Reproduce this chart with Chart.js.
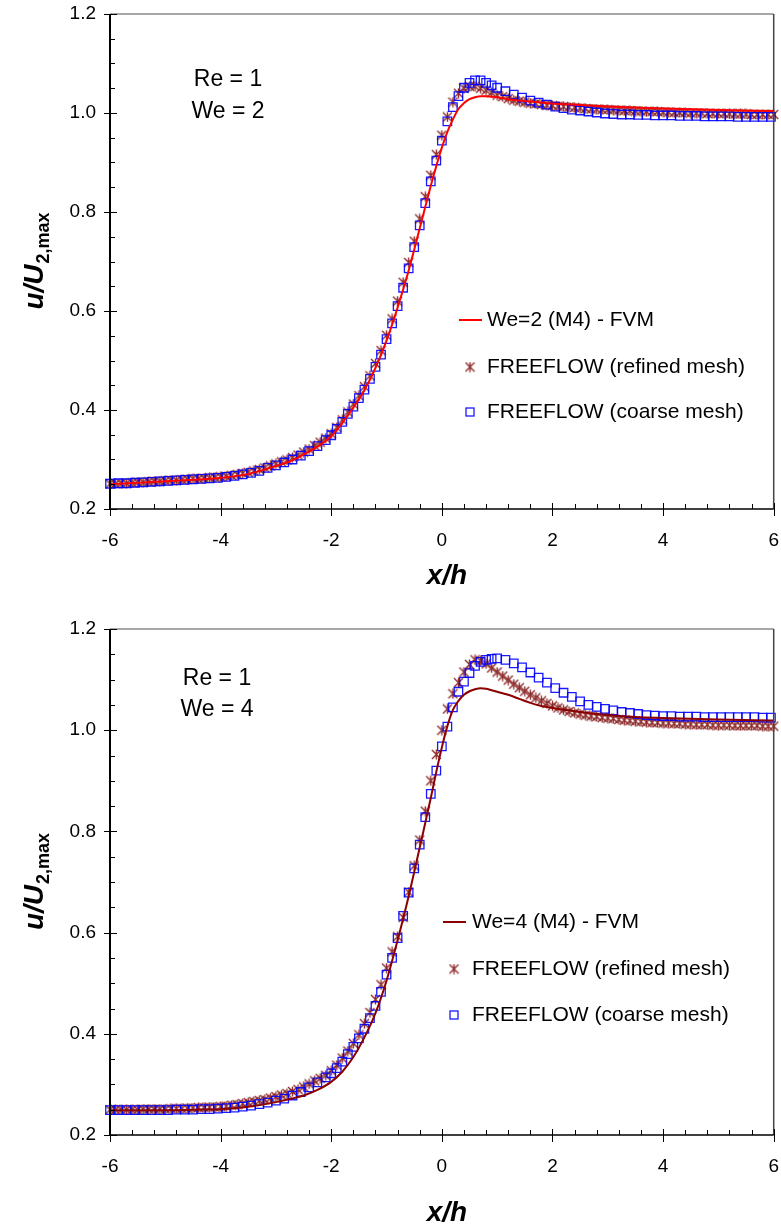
<!DOCTYPE html>
<html>
<head>
<meta charset="utf-8">
<title>u/U2,max vs x/h</title>
<script src="https://cdn.jsdelivr.net/npm/chart.js@4.4.1/dist/chart.umd.min.js"></script>
<style>
    html, body { margin: 0; padding: 0; background: #ffffff; overflow: hidden; width: 781px; height: 1226px; }
    .box { position: absolute; left: 0; width: 781px; overflow: hidden; }
    .box canvas { display: block; }
    #boxTop { top: 0; height: 610px; }
    #boxBottom { top: 610px; height: 616px; }
</style>
</head>
<body>
<div class="box" id="boxTop"><canvas id="chartTop"></canvas></div>
<div class="box" id="boxBottom"><canvas id="chartBottom"></canvas></div>

<script>
// ---- data ----

const xTicks = [-6, -4, -2, 0, 2, 4, 6];
const yTicks = [0.2, 0.4, 0.6, 0.8, 1.0, 1.2];

// FVM (M4) curve abscissae
const xFvm = [-6, -5, -4.5, -4, -3.5, -3, -2.75, -2.5, -2.25, -2, -1.8, -1.6, -1.4, -1.2, -1.0,
    -0.8, -0.6, -0.4, -0.2, -0.1, 0, 0.1, 0.2, 0.3, 0.4, 0.5, 0.6, 0.7, 0.8, 0.9, 1.0,
    1.2, 1.4, 1.6, 1.8, 2.0, 2.5, 3.0, 3.5, 4.0, 5.0, 6.0];

// FREEFLOW refined mesh abscissae
const xRefined = [-6.0, -5.9, -5.8, -5.7, -5.6, -5.5, -5.4, -5.3, -5.2, -5.1, -5.0, -4.9, -4.8, -4.7, -4.6,
    -4.5, -4.4, -4.3, -4.2, -4.1, -4.0, -3.9, -3.8, -3.7, -3.6, -3.5, -3.4, -3.3, -3.2, -3.1, -3.0,
    -2.9, -2.8, -2.7, -2.6, -2.5, -2.4, -2.3, -2.2, -2.1, -2.0, -1.9, -1.8, -1.7, -1.6, -1.5, -1.4,
    -1.3, -1.2, -1.1, -1.0, -0.9, -0.8, -0.7, -0.6, -0.5, -0.4, -0.3, -0.2, -0.1, 0.0, 0.1, 0.2,
    0.3, 0.4, 0.5, 0.6, 0.7, 0.8, 0.9, 1.0, 1.1, 1.2, 1.3, 1.4, 1.5, 1.6, 1.7, 1.8, 1.9, 2.0,
    2.1, 2.2, 2.3, 2.4, 2.5, 2.6, 2.7, 2.8, 2.9, 3.0, 3.1, 3.2, 3.3, 3.4, 3.5, 3.6, 3.7, 3.8,
    3.9, 4.0, 4.1, 4.2, 4.3, 4.4, 4.5, 4.6, 4.7, 4.8, 4.9, 5.0, 5.1, 5.2, 5.3, 5.4, 5.5, 5.6,
    5.7, 5.8, 5.9, 6.0];

// FREEFLOW coarse mesh abscissae
const xCoarse = [-6.00, -5.85, -5.70, -5.55, -5.40, -5.25, -5.10, -4.95, -4.80, -4.65, -4.50, -4.35,
    -4.20, -4.05, -3.90, -3.75, -3.60, -3.45, -3.30, -3.15, -3.00, -2.85, -2.70, -2.55, -2.40, -2.25,
    -2.10, -2.0, -1.9, -1.8, -1.7, -1.6, -1.5, -1.4, -1.3, -1.2, -1.1, -1.0, -0.9, -0.8, -0.7, -0.6,
    -0.5, -0.4, -0.3, -0.2, -0.1, 0.0, 0.1, 0.2, 0.3, 0.4, 0.5, 0.6, 0.7, 0.8, 0.9, 1.0,
    1.15, 1.30, 1.45, 1.60, 1.75, 1.90, 2.05, 2.20, 2.35, 2.50, 2.65, 2.80, 2.95, 3.10, 3.25, 3.40,
    3.55, 3.70, 3.85, 4.00, 4.15, 4.30, 4.45, 4.60, 4.75, 4.90, 5.05, 5.20, 5.35, 5.50, 5.65, 5.80, 5.95];

// Re = 1, We = 2
const we2Fvm = [0.250, 0.256, 0.259, 0.263, 0.271, 0.287, 0.296, 0.310, 0.326, 0.347, 0.374, 0.405,
    0.440, 0.485, 0.540, 0.607, 0.682, 0.767, 0.853, 0.893, 0.930, 0.962, 0.987, 1.008, 1.020,
    1.028, 1.032, 1.034, 1.034, 1.033, 1.032, 1.028, 1.025, 1.023, 1.021, 1.019, 1.016, 1.013,
    1.011, 1.009, 1.006, 1.004];

const we2Refined = [0.251, 0.251, 0.252, 0.252, 0.253, 0.254, 0.254, 0.255, 0.256, 0.256, 0.257,
    0.258, 0.258, 0.259, 0.260, 0.261, 0.261, 0.262, 0.263, 0.264, 0.265,
    0.266, 0.268, 0.270, 0.272, 0.274, 0.277, 0.280, 0.283, 0.287, 0.291,
    0.295, 0.299, 0.304, 0.309, 0.315, 0.321, 0.328, 0.335, 0.343, 0.352,
    0.365, 0.380, 0.396, 0.412, 0.429, 0.447, 0.469, 0.494, 0.520, 0.551,
    0.584, 0.620, 0.658, 0.698, 0.741, 0.786, 0.831, 0.874, 0.916, 0.955,
    0.992, 1.022, 1.040, 1.050, 1.054, 1.054, 1.050, 1.046, 1.041, 1.036,
    1.033, 1.029, 1.026, 1.024, 1.022, 1.020, 1.019, 1.017, 1.016, 1.015,
    1.014, 1.013, 1.012, 1.011, 1.010, 1.009, 1.008, 1.008, 1.007, 1.007,
    1.006, 1.006, 1.005, 1.005, 1.004, 1.004, 1.003, 1.003, 1.003, 1.002,
    1.002, 1.001, 1.001, 1.001, 1.000, 1.000, 1.000, 0.999, 0.999, 0.999,
    0.999, 0.998, 0.998, 0.998, 0.998, 0.997, 0.997, 0.997, 0.997, 0.997];

const we2Coarse = [0.251, 0.252, 0.252, 0.253, 0.254, 0.255, 0.256, 0.257, 0.258, 0.259, 0.260,
    0.261, 0.262, 0.263, 0.265, 0.267, 0.270, 0.273, 0.277, 0.283, 0.288, 0.294, 0.300, 0.308,
    0.317, 0.327, 0.339,
    0.349, 0.362, 0.376, 0.392, 0.407, 0.424, 0.441, 0.463, 0.487, 0.512, 0.543, 0.575, 0.610,
    0.647, 0.686, 0.729, 0.773, 0.818, 0.862, 0.904, 0.944, 0.983, 1.012, 1.034, 1.051, 1.061,
    1.066, 1.066, 1.061, 1.056, 1.051,
    1.044, 1.037, 1.031, 1.025, 1.021, 1.017, 1.013, 1.010, 1.007, 1.005, 1.003, 1.001, 0.999,
    0.998, 0.997, 0.997, 0.996, 0.996, 0.995, 0.995, 0.995, 0.994, 0.994, 0.994, 0.993, 0.993,
    0.993, 0.993, 0.992, 0.992, 0.992, 0.992, 0.992];

// Re = 1, We = 4
const we4Fvm = [0.249, 0.249, 0.250, 0.251, 0.256, 0.265, 0.271, 0.278, 0.289, 0.305, 0.325, 0.354,
    0.393, 0.441, 0.505, 0.585, 0.672, 0.768, 0.866, 0.918, 0.966, 1.008, 1.040, 1.058, 1.070,
    1.077, 1.081, 1.083, 1.082, 1.079, 1.076, 1.070, 1.062, 1.054, 1.048, 1.044, 1.036, 1.030,
    1.026, 1.024, 1.021, 1.019];

const we4Refined = [0.250, 0.250, 0.250, 0.250, 0.250, 0.250, 0.251, 0.251, 0.251, 0.251, 0.251,
    0.252, 0.252, 0.252, 0.253, 0.253, 0.254, 0.254, 0.255, 0.255, 0.256,
    0.257, 0.259, 0.260, 0.262, 0.264, 0.266, 0.268, 0.270, 0.273, 0.276,
    0.279, 0.282, 0.286, 0.290, 0.295, 0.301, 0.307, 0.312, 0.318, 0.327,
    0.338, 0.352, 0.366, 0.381, 0.398, 0.420, 0.442, 0.468, 0.497, 0.530,
    0.562, 0.592, 0.630, 0.680, 0.732, 0.783, 0.840, 0.900, 0.952, 1.000,
    1.042, 1.072, 1.094, 1.115, 1.130, 1.139, 1.137, 1.131, 1.123, 1.115,
    1.107, 1.099, 1.091, 1.084, 1.077, 1.070, 1.064, 1.058, 1.053, 1.048,
    1.044, 1.040, 1.037, 1.034, 1.032, 1.030, 1.028, 1.027, 1.025, 1.024,
    1.023, 1.021, 1.020, 1.019, 1.018, 1.017, 1.016, 1.015, 1.015, 1.014,
    1.014, 1.013, 1.013, 1.012, 1.012, 1.011, 1.011, 1.011, 1.010, 1.010,
    1.010, 1.010, 1.009, 1.009, 1.009, 1.009, 1.009, 1.008, 1.008, 1.008];

const we4Coarse = [0.249, 0.249, 0.249, 0.249, 0.249, 0.249, 0.249, 0.249, 0.250, 0.250, 0.250,
    0.251, 0.251, 0.252, 0.253, 0.254, 0.256, 0.258, 0.261, 0.264, 0.268, 0.272, 0.278, 0.285,
    0.294, 0.304, 0.314,
    0.322, 0.332, 0.345, 0.360, 0.374, 0.391, 0.410, 0.431, 0.455, 0.483, 0.517, 0.550, 0.589,
    0.633, 0.679, 0.727, 0.774, 0.828, 0.874, 0.920, 0.968, 1.007, 1.045, 1.076, 1.096, 1.113,
    1.127, 1.135, 1.139, 1.141, 1.142,
    1.139, 1.132, 1.124, 1.114, 1.104, 1.094, 1.083, 1.074, 1.066, 1.057, 1.050, 1.046, 1.042,
    1.039, 1.036, 1.034, 1.032, 1.030, 1.029, 1.028, 1.028, 1.027, 1.027, 1.027, 1.026, 1.026,
    1.026, 1.026, 1.026, 1.026, 1.026, 1.025, 1.025];

// ---- drawing ----

const FONT = "Arial, 'Liberation Sans', Helvetica, sans-serif";

function toPoints(xs, ys) {
    return xs.map((x, i) => ({ x: x, y: ys[i] }));
}

// six-armed asterisk used by the refined-mesh series
function makeAsterisk(color) {
    const c = document.createElement("canvas");
    c.width = 11;
    c.height = 11;
    const g = c.getContext("2d");
    g.strokeStyle = color;
    g.lineWidth = 1.4;
    g.beginPath();
    g.moveTo(1, 1); g.lineTo(10, 10);
    g.moveTo(10, 1); g.lineTo(1, 10);
    g.moveTo(5.5, 0.5); g.lineTo(5.5, 10.5);
    g.stroke();
    return c;
}

const asterisk = makeAsterisk("rgba(130, 20, 20, 0.9)");

function decorPlugin(cfg) {

    return {

        id: "decor",

        afterDraw(chart) {

            const ctx = chart.ctx;
            const a = chart.chartArea;
            const xs = chart.scales.x;
            const ys = chart.scales.y;
            const ds = chart.data.datasets;

            function seg(x1, y1, x2, y2) {
                ctx.beginPath();
                ctx.moveTo(x1, y1);
                ctx.lineTo(x2, y2);
                ctx.stroke();
            }

            ctx.save();

            // frame
            ctx.lineWidth = 1.5;
            ctx.strokeStyle = "#8a8a8a";
            seg(a.left, a.top, a.right, a.top);
            ctx.strokeStyle = "#444444";
            seg(a.right, a.top, a.right, a.bottom);
            ctx.strokeStyle = "#000000";
            ctx.lineWidth = 2;
            seg(a.left, a.top, a.left, a.bottom + 1);
            ctx.lineWidth = 1.5;
            seg(a.left, a.bottom, a.right, a.bottom);

            // y ticks: major crossing the axis, minor inside every 0.05
            ctx.lineWidth = 1;
            for (let i = 0; i <= 20; i++) {
                const py = Math.round(ys.getPixelForValue(0.2 + i * 0.05)) + 0.5;
                if (i % 4 === 0) seg(a.left - 6, py, a.left + 7, py);
                else seg(a.left, py, a.left + 5, py);
            }

            // x ticks: major crossing the axis, minor inside every 0.4
            for (let i = 0; i <= 30; i++) {
                const px = Math.round(xs.getPixelForValue(-6 + i * 0.4)) + 0.5;
                if (i % 5 === 0) seg(px, a.bottom - 6, px, a.bottom + 7);
                else seg(px, a.bottom - 5, px, a.bottom);
            }

            // Re / We annotation
            ctx.fillStyle = "#000000";
            ctx.font = "23px " + FONT;
            ctx.textAlign = "center";
            ctx.textBaseline = "middle";
            ctx.fillText(cfg.note[0], cfg.noteX, cfg.noteY[0]);
            ctx.fillText(cfg.note[1], cfg.noteX, cfg.noteY[1]);

            // legend
            const L = cfg.legend;
            ctx.strokeStyle = ds[0].borderColor;
            ctx.lineWidth = 2;
            seg(L.lineX0, L.rows[0], L.lineX1, L.rows[0]);
            ctx.drawImage(asterisk, L.markX - 5.5, L.rows[1] - 5.5);
            ctx.strokeStyle = ds[1].borderColor;
            ctx.lineWidth = 1.3;
            ctx.strokeRect(L.markX - 4, L.rows[2] - 4, 8, 8);

            ctx.font = "21px " + FONT;
            ctx.textAlign = "left";
            ctx.fillText(ds[0].label, L.textX, L.rows[0]);
            ctx.fillText(ds[2].label, L.textX, L.rows[1]);
            ctx.fillText(ds[1].label, L.textX, L.rows[2]);

            // x title
            ctx.font = "italic bold 28px " + FONT;
            ctx.textAlign = "center";
            ctx.fillText("x/h", cfg.xTitleX, cfg.xTitleY);

            // y title with subscript
            const main = "u/U";
            const sub = "2,max";
            ctx.font = "italic bold 28px " + FONT;
            const w1 = ctx.measureText(main).width;
            ctx.font = "bold 18px " + FONT;
            const w2 = ctx.measureText(sub).width;
            ctx.translate(43, (a.top + a.bottom) / 2);
            ctx.rotate(-Math.PI / 2);
            ctx.textAlign = "left";
            ctx.textBaseline = "alphabetic";
            ctx.font = "italic bold 28px " + FONT;
            ctx.fillText(main, -(w1 + w2) / 2, 0);
            ctx.font = "bold 18px " + FONT;
            ctx.fillText(sub, -(w1 + w2) / 2 + w1 + 1, 6);

            ctx.restore();

        }

    };

}

function buildChart(canvasId, series, cfg) {

    const ctx = document.getElementById(canvasId);

    return new Chart(ctx, {

        type: "scatter",

        data: {

            datasets: [

                {
                    label: cfg.fvmLabel,
                    data: toPoints(xFvm, series.fvm),
                    showLine: true,
                    borderColor: cfg.fvmColor,
                    borderWidth: 2,
                    pointRadius: 0,
                    cubicInterpolationMode: "monotone",
                    clip: false
                },

                {
                    label: "FREEFLOW (coarse mesh)",
                    data: toPoints(xCoarse, series.coarse),
                    borderColor: "rgba(0, 0, 255, 0.9)",
                    backgroundColor: "rgba(0, 0, 0, 0)",
                    borderWidth: 1.3,
                    pointStyle: "rect",
                    pointRadius: 6,
                    clip: false
                },

                {
                    label: "FREEFLOW (refined mesh)",
                    data: toPoints(xRefined, series.refined),
                    pointStyle: asterisk,
                    borderColor: "rgba(130, 20, 20, 0.9)",
                    pointRadius: 5,
                    clip: false
                }

            ]

        },

        options: {

            responsive: true,
            maintainAspectRatio: false,
            animation: false,
            events: [],

            layout: {
                padding: { top: cfg.padTop, right: 7, left: 0, bottom: 0 }
            },

            plugins: {
                legend: { display: false },
                tooltip: { enabled: false }
            },

            scales: {

                x: {
                    type: "linear",
                    min: -6,
                    max: 6,
                    grid: { display: false, drawTicks: false },
                    border: { display: false },
                    afterBuildTicks: s => { s.ticks = xTicks.map(v => ({ value: v })); },
                    afterFit: s => {
                        s.height = cfg.xAxisHeight;
                        s.paddingLeft = 0;
                        s.paddingRight = 0;
                    },
                    ticks: {
                        padding: 20,
                        color: "#000000",
                        font: { family: FONT, size: 19 },
                        callback: v => String(v)
                    }
                },

                y: {
                    type: "linear",
                    min: 0.2,
                    max: 1.2,
                    grid: { display: false, drawTicks: false },
                    border: { display: false },
                    afterBuildTicks: s => { s.ticks = yTicks.map(v => ({ value: v })); },
                    afterFit: s => {
                        s.width = 110;
                        s.paddingTop = 0;
                        s.paddingBottom = 0;
                    },
                    ticks: {
                        padding: 14,
                        color: "#000000",
                        font: { family: FONT, size: 19 },
                        callback: v => Number(v).toFixed(1)
                    }
                }

            }

        },

        plugins: [decorPlugin(cfg)]

    });

}

buildChart("chartTop",
    { fvm: we2Fvm, refined: we2Refined, coarse: we2Coarse },
    {
        fvmLabel: "We=2 (M4) - FVM",
        fvmColor: "#ff0000",
        padTop: 14,
        xAxisHeight: 101,
        note: ["Re = 1", "We = 2"],
        noteX: 228,
        noteY: [80, 112],
        legend: { rows: [320, 367, 412], lineX0: 459, lineX1: 482, markX: 470, textX: 487 },
        xTitleX: 447,
        xTitleY: 576
    });

buildChart("chartBottom",
    { fvm: we4Fvm, refined: we4Refined, coarse: we4Coarse },
    {
        fvmLabel: "We=4 (M4) - FVM",
        fvmColor: "#8b0000",
        padTop: 19,
        xAxisHeight: 91,
        note: ["Re = 1", "We = 4"],
        noteX: 217,
        noteY: [69, 100],
        legend: { rows: [312, 359, 405], lineX0: 443, lineX1: 466, markX: 454, textX: 472 },
        xTitleX: 447,
        xTitleY: 603
    });
</script>
</body>
</html>
